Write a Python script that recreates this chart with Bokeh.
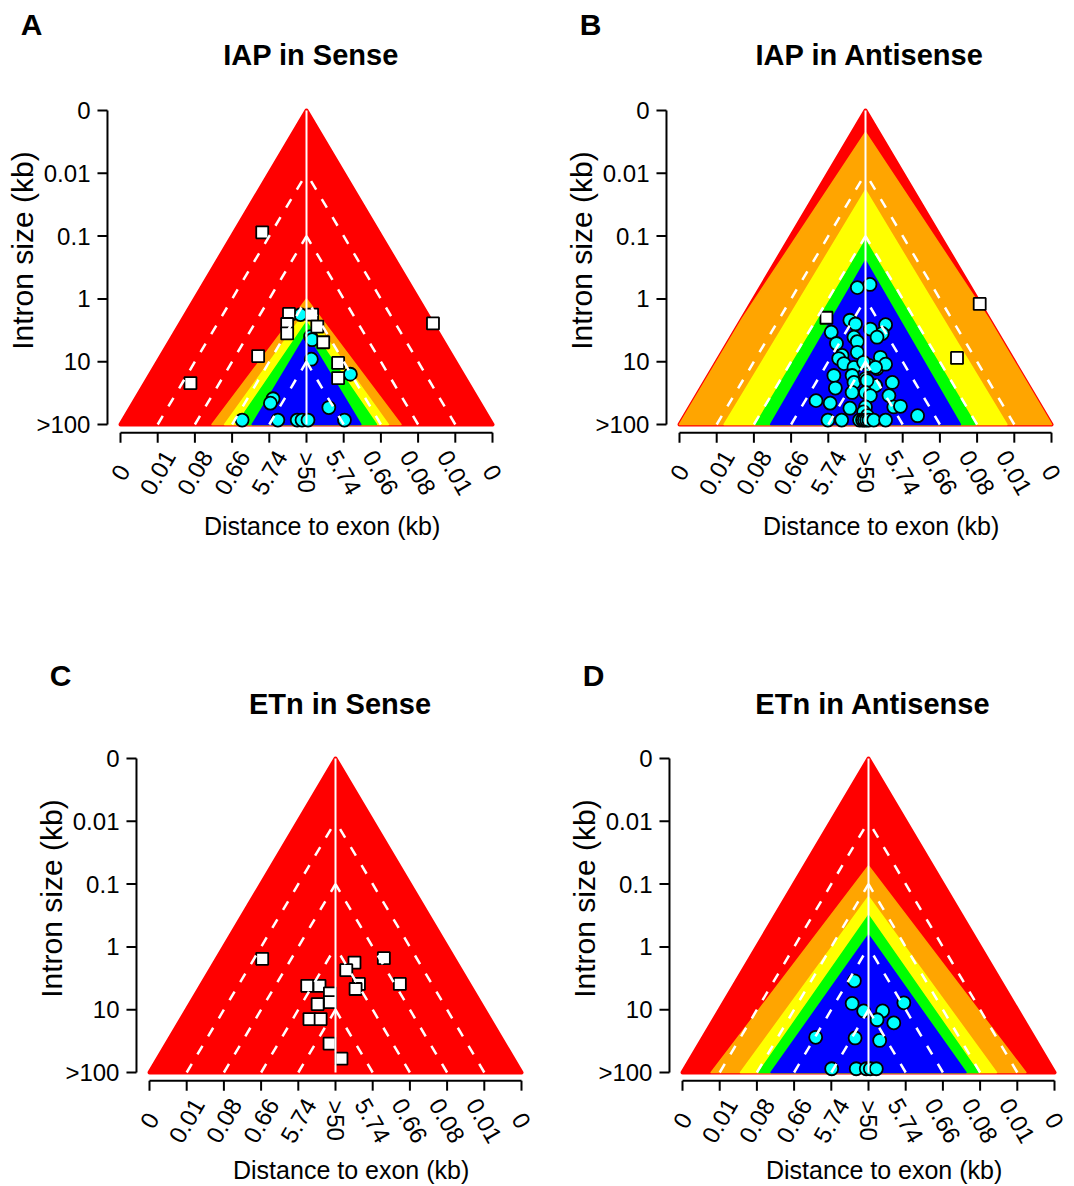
import math
from bokeh.plotting import figure
from bokeh.models import ColumnDataSource, LabelSet, Label, Range1d
from bokeh.layouts import column, row
from bokeh.embed import file_html
from bokeh.resources import INLINE
from bokeh.core.properties import value

# ---------------- data ----------------
X_TICKS = [-5, -4, -3, -2, -1, 0, 1, 2, 3, 4, 5]
X_LABELS = ["0", "0.01", "0.08", "0.66", "5.74", ">50", "5.74", "0.66", "0.08", "0.01", "0"]
Y_TICKS = [0, 1, 2, 3, 4, 5]
Y_LABELS = [">100", "10", "1", "0.1", "0.01", "0"]
X_TITLE = "Distance to exon (kb)"
Y_TITLE = "Intron size (kb)"

PANEL_LETTERS = ["A", "B", "C", "D"]
PANEL_TITLES = ["IAP in Sense", "IAP in Antisense", "ETn in Sense", "ETn in Antisense"]

BASE_COLOR = "#FF0000"
BAND_COLORS = ["#FFA500", "#FFFF00", "#00FF00", "#0000FF"]

# band apex height and half base width (in axis units)
A_band_apex = [2.00, 1.82, 1.63, 1.44]
A_band_half = [2.54, 2.20, 1.88, 1.46]
B_band_apex = [4.65, 3.73, 2.93, 2.61]
B_band_half = [5.20, 3.80, 2.95, 2.55]
C_band_apex = []
C_band_half = []
D_band_apex = [3.29, 2.80, 2.50, 2.19]
D_band_half = [4.23, 3.44, 2.95, 2.62]

# squares (white) and circles (cyan)
A_sq_x = [-1.19, -0.47, -0.52, -0.52, 0.15, 0.29, 0.45, -1.30, 0.85, 0.85, -3.12, 3.40]
A_sq_y = [3.06, 1.76, 1.60, 1.45, 1.75, 1.56, 1.31, 1.09, 0.98, 0.74, 0.66, 1.61]
A_ci_x = [-0.16, 0.11, 0.15, 0.13, 1.18, -0.90, -0.97, 0.60, -1.73, -0.77, -0.25, -0.12, 0.04, 1.02]
A_ci_y = [1.75, 1.40, 1.35, 1.04, 0.80, 0.41, 0.34, 0.27, 0.07, 0.07, 0.07, 0.07, 0.07, 0.07]

B_sq_x = [-1.05, 3.07, 2.46]
B_sq_y = [1.70, 1.92, 1.06]
B_ci_x = [-0.22, 0.12, -0.42, -0.27, 0.13, 0.54, 0.45, 0.31, -0.92, -0.78, -0.31, -0.22,
          -0.22, -0.63, 0.40, -0.72, -0.58, -0.31, 0.09, 0.31, 0.54, -0.05, 0.27, -0.85,
          -0.36, -0.31, 0.00, 0.27, 0.72, 0.04, -0.81, -0.36, 0.00, 0.13, 0.63, -1.33,
          -0.95, -0.42, 0.00, 0.76, 0.94, -0.05, 0.05, 1.40, -1.01, -0.64, -0.16, -0.08,
          -0.03, 0.03, 0.09, 0.22, 0.54]
B_ci_y = [2.18, 2.23, 1.66, 1.60, 1.52, 1.59, 1.45, 1.39, 1.47, 1.29, 1.39, 1.32,
          1.15, 1.10, 1.07, 1.05, 0.97, 0.91, 0.94, 0.89, 0.96, 0.99, 0.91, 0.78,
          0.78, 0.67, 0.73, 0.62, 0.67, 0.70, 0.58, 0.51, 0.51, 0.46, 0.46, 0.38,
          0.34, 0.26, 0.28, 0.28, 0.29, 0.20, 0.14, 0.14, 0.07, 0.07, 0.07, 0.07,
          0.07, 0.07, 0.07, 0.07, 0.07]

C_sq_x = [-1.97, 1.30, 0.51, 0.29, 0.63, 0.54, 1.73, -0.76, -0.43, -0.15, -0.15, -0.48,
          -0.70, -0.40, -0.16, 0.16]
C_sq_y = [1.81, 1.82, 1.75, 1.63, 1.41, 1.33, 1.41, 1.38, 1.38, 1.26, 1.12, 1.09,
          0.85, 0.85, 0.46, 0.22]
C_ci_x = []
C_ci_y = []

D_sq_x = []
D_sq_y = []
D_ci_x = [-0.38, -0.44, -0.13, 0.38, 0.23, 0.68, 0.95, -1.42, -0.36, 0.30, -0.99, -0.33,
          -0.06, 0.05, 0.21]
D_ci_y = [1.46, 1.10, 0.98, 0.98, 0.84, 0.79, 1.11, 0.56, 0.55, 0.51, 0.06, 0.06,
          0.06, 0.06, 0.06]

# ---------------- styling / geometry ----------------
FONT = "Liberation Sans"
PX_X = 37.2      # pixels per x unit
PX_Y = 62.8      # pixels per y unit
AXIS_X = -5.35   # position of the y-axis line
AXIS_Y = -0.13   # position of the x-axis line
TICK_PX = 10


def band_polygon(apex, half, H, W):
    """Intersection of the outer triangle (height H, half base W) with a band triangle."""
    xe = min(W, half)
    pts = [0.0, xe]
    denom = apex / half - H / W
    if abs(denom) > 1e-9:
        xc = (apex - H) / denom
        if 0 < xc < xe:
            pts.insert(1, xc)

    def top(x):
        return min(H * (1 - x / W), apex * (1 - x / half))

    right = [(x, top(x)) for x in pts]
    right[-1] = (xe, 0.0)
    left = [(-x, y) for x, y in reversed(right)]
    poly = left[:-1] + right
    return [p[0] for p in poly], [p[1] for p in poly]


def make_panel(i, band_apex, band_half, sq_x, sq_y, ci_x, ci_y,
               width, height, zero_x_px, zero_y_px, xtitle_y, title_y, letter_y):
    x0 = -zero_x_px / PX_X
    x1 = (width - zero_x_px) / PX_X
    y1 = zero_y_px / PX_Y
    y0 = -(height - zero_y_px) / PX_Y
    p = figure(width=width, height=height,
               x_range=Range1d(x0, x1), y_range=Range1d(y0, y1),
               output_backend="svg", toolbar_location=None,
               x_axis_type=None, y_axis_type=None,
               min_border_left=0, min_border_right=0,
               min_border_top=0, min_border_bottom=0)
    p.grid.visible = False
    p.outline_line_color = None
    p.background_fill_color = "white"
    p.border_fill_color = "white"

    H = Y_TICKS[-1]
    W = X_TICKS[-1]
    tx = TICK_PX / PX_X
    ty = TICK_PX / PX_Y

    # ---- outer triangle and bands
    p.patch(x=[X_TICKS[0], 0, X_TICKS[-1]], y=[0, H, 0],
            fill_color=BASE_COLOR, line_color=BASE_COLOR, line_width=4,
            line_join="round")
    for a, b, c in zip(band_apex, band_half, BAND_COLORS):
        bx, by = band_polygon(a, b, H, W)
        p.patch(x=bx, y=by, fill_color=c, line_color=c, line_width=1.5,
                line_join="round")

    # ---- points
    p.scatter(x=ci_x, y=ci_y, marker="circle", size=13, fill_color="#00FFFF",
              line_color="black", line_width=1.8)
    p.scatter(x=sq_x, y=sq_y, marker="square", size=12, fill_color="white",
              line_color="black", line_width=1.8)

    # ---- white guide lines
    ks = [k for k in X_TICKS if 0 < k < W]
    p.segment(x0=[-k for k in ks] + ks, y0=[0] * (2 * len(ks)),
              x1=[0] * (2 * len(ks)), y1=ks + ks,
              line_color="white", line_width=2.5, line_dash="10 11")
    p.segment(x0=[0], y0=[0], x1=[0], y1=[H], line_color="white", line_width=2)

    # ---- y axis (line, ticks, labels, title)
    p.segment(x0=[AXIS_X], y0=[Y_TICKS[0]], x1=[AXIS_X], y1=[Y_TICKS[-1]],
              line_color="black", line_width=2)
    p.segment(x0=[AXIS_X] * len(Y_TICKS), y0=Y_TICKS,
              x1=[AXIS_X - tx] * len(Y_TICKS), y1=Y_TICKS,
              line_color="black", line_width=2)
    ysrc = ColumnDataSource(dict(x=[AXIS_X - 17 / PX_X] * len(Y_TICKS), y=Y_TICKS,
                                 text=Y_LABELS))
    p.add_layout(LabelSet(x="x", y="y", text="text", source=ysrc,
                          text_align="right", text_baseline="middle",
                          text_font=value(FONT), text_font_size="24px",
                          text_color="black"))
    p.add_layout(Label(x=-7.63, y=2.77, text=Y_TITLE,
                       angle=math.pi / 2, text_align="center", text_baseline="middle",
                       text_font=FONT, text_font_size="30px", text_color="black"))

    # ---- x axis (line, ticks, rotated labels, title)
    p.segment(x0=[X_TICKS[0]], y0=[AXIS_Y], x1=[X_TICKS[-1]], y1=[AXIS_Y],
              line_color="black", line_width=2)
    p.segment(x0=X_TICKS, y0=[AXIS_Y] * len(X_TICKS),
              x1=X_TICKS, y1=[AXIS_Y - ty] * len(X_TICKS),
              line_color="black", line_width=2)
    angles = [math.pi / 3 if t < 0 else (-math.pi / 2 if t == 0 else -math.pi / 3)
              for t in X_TICKS]
    xsrc = ColumnDataSource(dict(x=X_TICKS, y=[-0.765] * len(X_TICKS),
                                 text=X_LABELS, angle=angles))
    p.add_layout(LabelSet(x="x", y="y", text="text", angle="angle", source=xsrc,
                          text_align="center", text_baseline="middle",
                          text_font=value(FONT), text_font_size="24px",
                          text_color="black"))
    p.add_layout(Label(x=0.42, y=xtitle_y, text=X_TITLE, text_align="center",
                       text_baseline="middle", text_font=FONT, text_font_size="25px",
                       text_color="black"))

    # ---- title and panel letter
    p.add_layout(Label(x=0.12, y=title_y, text=PANEL_TITLES[i], text_align="center",
                       text_baseline="middle", text_font=FONT, text_font_size="29px",
                       text_font_style="bold", text_color="black"))
    p.add_layout(Label(x=-7.39, y=letter_y, text=PANEL_LETTERS[i], text_align="center",
                       text_baseline="middle", text_font=FONT, text_font_size="30px",
                       text_font_style="bold", text_color="black"))
    return p


pA = make_panel(0, A_band_apex, A_band_half, A_sq_x, A_sq_y, A_ci_x, A_ci_y,
                560, 657, 306, 424, -1.62, 5.89, 6.37)
pB = make_panel(1, B_band_apex, B_band_half, B_sq_x, B_sq_y, B_ci_x, B_ci_y,
                512, 657, 305, 424, -1.62, 5.89, 6.37)
pC = make_panel(2, C_band_apex, C_band_half, C_sq_x, C_sq_y, C_ci_x, C_ci_y,
                560, 528, 335, 415, -1.55, 5.875, 6.32)
pD = make_panel(3, D_band_apex, D_band_half, D_sq_x, D_sq_y, D_ci_x, D_ci_y,
                512, 528, 308, 415, -1.55, 5.875, 6.32)

layout = column(row(pA, pB), row(pC, pD))
open("out.html", "w").write(file_html(layout, INLINE))
